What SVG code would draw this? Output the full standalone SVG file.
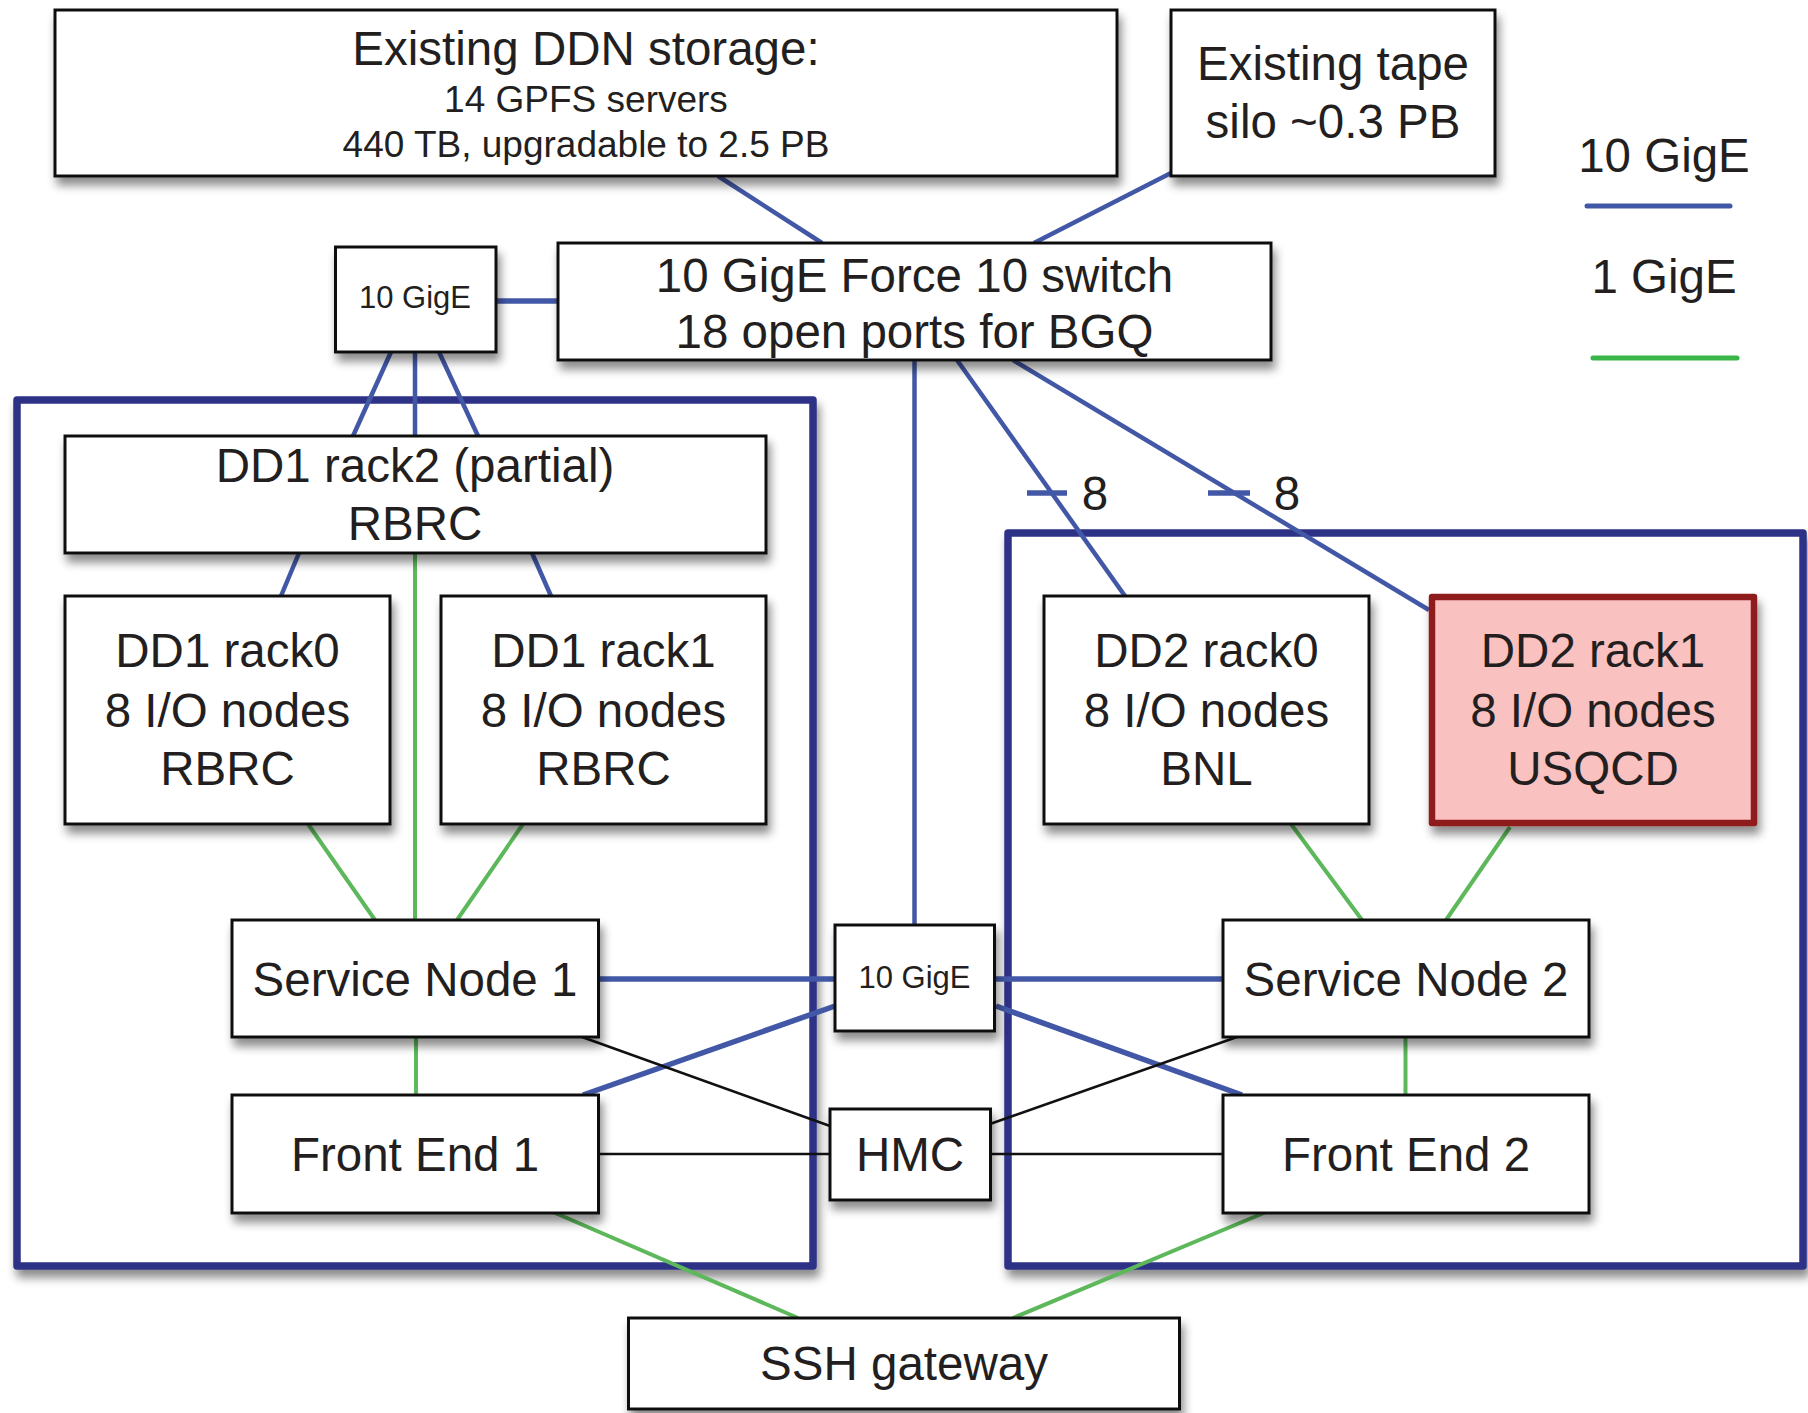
<svg xmlns="http://www.w3.org/2000/svg" width="1808" height="1413" viewBox="0 0 1808 1413">
<defs>
<filter id="sh" x="-10%" y="-10%" width="130%" height="140%">
<feDropShadow dx="3" dy="8" stdDeviation="5" flood-color="#000" flood-opacity="0.45"/>
</filter>
<style>
.box{fill:#fff;stroke:#111;stroke-width:3;filter:url(#sh)}
.frame{fill:#fff;stroke:#2e3187;stroke-width:7.5;stroke-linejoin:round;filter:url(#sh)}
.t{font-family:"Liberation Sans",Arial,sans-serif;fill:#231f20;text-anchor:middle;font-size:47.5px}
.s{font-size:37px}
.xs{font-size:31px}
.b{stroke:#4258a6;stroke-width:4.5;fill:none}
.bw{stroke:#4258a6;stroke-width:5.5;fill:none}
.g{stroke:#5cb85a;stroke-width:4;fill:none}
.k{stroke:#111;stroke-width:2.5;fill:none}
</style>
</defs>
<rect width="1808" height="1413" fill="#fff"/>

<g id="frame-left"><rect class="frame" x="17" y="400" width="796" height="866"/></g>
<g id="frame-right"><rect class="frame" x="1008" y="533" width="795" height="733"/></g>

<g id="connectors">
<line class="b" x1="718" y1="176" x2="822" y2="243"/>
<line class="b" x1="1171" y1="173" x2="1034" y2="243"/>
<line class="bw" x1="496" y1="301" x2="558" y2="301"/>
<line class="b" x1="391" y1="352" x2="353" y2="436"/>
<line class="b" x1="415" y1="352" x2="415" y2="436"/>
<line class="b" x1="439" y1="352" x2="478" y2="436"/>
<line class="b" x1="299" y1="553" x2="281" y2="596"/>
<line class="b" x1="532" y1="553" x2="551" y2="596"/>
<line class="g" x1="415" y1="553" x2="415" y2="920"/>
<line class="g" x1="308" y1="824" x2="375" y2="920"/>
<line class="g" x1="523" y1="824" x2="457" y2="920"/>
<line class="g" x1="416" y1="1037" x2="416" y2="1095"/>
<line class="b" x1="914.5" y1="360" x2="914.5" y2="925"/>
<line class="b" x1="957" y1="360" x2="1125" y2="596"/>
<line class="b" x1="1013" y1="360" x2="1429" y2="610"/>
<line class="bw" x1="1027" y1="493" x2="1067" y2="493"/>
<line class="bw" x1="1208" y1="493" x2="1250" y2="493"/>
<line class="g" x1="1291" y1="824" x2="1362" y2="920"/>
<line class="g" x1="1510" y1="827" x2="1446" y2="920"/>
<line class="g" x1="1405.5" y1="1037" x2="1405.5" y2="1095"/>
<line class="bw" x1="598" y1="979" x2="835" y2="979"/>
<line class="bw" x1="994" y1="979" x2="1223" y2="979"/>
<line class="bw" x1="835" y1="1006" x2="583" y2="1095"/>
<line class="bw" x1="996" y1="1006" x2="1242" y2="1095"/>
<line class="k" x1="582" y1="1037" x2="830" y2="1126"/>
<line class="k" x1="598" y1="1154" x2="830" y2="1154"/>
<line class="k" x1="990" y1="1124" x2="1237" y2="1037"/>
<line class="k" x1="990" y1="1154" x2="1223" y2="1154"/>
<line class="g" x1="553" y1="1212" x2="798" y2="1318"/>
<line class="g" x1="1266" y1="1212" x2="1013" y2="1318"/>
</g>

<g id="ddn">
<rect class="box" x="55" y="10" width="1062" height="166"/>
<text class="t" x="586" y="65">Existing DDN storage:</text>
<text class="t s" x="586" y="112">14 GPFS servers</text>
<text class="t s" x="586" y="157">440 TB, upgradable to 2.5 PB</text>
</g>
<g id="tape">
<rect class="box" x="1171" y="10" width="324" height="166"/>
<text class="t" x="1333" y="80">Existing tape</text>
<text class="t" x="1333" y="138">silo ~0.3 PB</text>
</g>
<g id="legend">
<text class="t" x="1664" y="172">10 GigE</text>
<line x1="1587" y1="206" x2="1730" y2="206" stroke="#4258a6" stroke-width="5" stroke-linecap="round"/>
<text class="t" x="1664" y="293">1 GigE</text>
<line x1="1593" y1="358" x2="1737" y2="358" stroke="#3ab54a" stroke-width="5" stroke-linecap="round"/>
</g>
<g id="gige-top">
<rect class="box" x="335.5" y="247" width="160.5" height="105"/>
<text class="t xs" x="415" y="308">10 GigE</text>
</g>
<g id="switch">
<rect class="box" x="558" y="243" width="713" height="117"/>
<text class="t" x="914.5" y="292">10 GigE Force 10 switch</text>
<text class="t" x="914.5" y="348">18 open ports for BGQ</text>
</g>
<g id="dd1-rack2">
<rect class="box" x="65" y="436" width="701" height="117"/>
<text class="t" x="415" y="482">DD1 rack2 (partial)</text>
<text class="t" x="415" y="540">RBRC</text>
</g>
<g id="dd1-rack0">
<rect class="box" x="65" y="596" width="325" height="228"/>
<text class="t" x="227.5" y="667">DD1 rack0</text>
<text class="t" x="227.5" y="727">8 I/O nodes</text>
<text class="t" x="227.5" y="785">RBRC</text>
</g>
<g id="dd1-rack1">
<rect class="box" x="441" y="596" width="325" height="228"/>
<text class="t" x="603.5" y="667">DD1 rack1</text>
<text class="t" x="603.5" y="727">8 I/O nodes</text>
<text class="t" x="603.5" y="785">RBRC</text>
</g>
<g id="label-8a"><text class="t" x="1095" y="510">8</text></g>
<g id="label-8b"><text class="t" x="1287" y="510">8</text></g>
<g id="dd2-rack0">
<rect class="box" x="1044" y="596" width="325" height="228"/>
<text class="t" x="1206.5" y="667">DD2 rack0</text>
<text class="t" x="1206.5" y="727">8 I/O nodes</text>
<text class="t" x="1206.5" y="785">BNL</text>
</g>
<g id="dd2-rack1">
<rect x="1432" y="597" width="322" height="226" fill="#f9c1c0" stroke="#8e1a1f" stroke-width="6.5" stroke-linejoin="round" filter="url(#sh)"/>
<text class="t" x="1593" y="667">DD2 rack1</text>
<text class="t" x="1593" y="727">8 I/O nodes</text>
<text class="t" x="1593" y="785">USQCD</text>
</g>
<g id="service-node-1">
<rect class="box" x="232" y="920" width="366.5" height="117"/>
<text class="t" x="415" y="996">Service Node 1</text>
</g>
<g id="front-end-1">
<rect class="box" x="232" y="1095" width="366.5" height="118"/>
<text class="t" x="415" y="1171">Front End 1</text>
</g>
<g id="gige-mid">
<rect class="box" x="835" y="925" width="159.5" height="106"/>
<text class="t xs" x="914.5" y="988">10 GigE</text>
</g>
<g id="hmc">
<rect class="box" x="830" y="1109" width="160.5" height="91"/>
<text class="t" x="910" y="1171">HMC</text>
</g>
<g id="service-node-2">
<rect class="box" x="1223" y="920" width="366" height="117"/>
<text class="t" x="1406" y="996">Service Node 2</text>
</g>
<g id="front-end-2">
<rect class="box" x="1223" y="1095" width="366" height="118"/>
<text class="t" x="1406" y="1171">Front End 2</text>
</g>
<g id="ssh-gateway">
<rect class="box" x="628.5" y="1318" width="551" height="91"/>
<text class="t" x="904" y="1380">SSH gateway</text>
</g>
</svg>
